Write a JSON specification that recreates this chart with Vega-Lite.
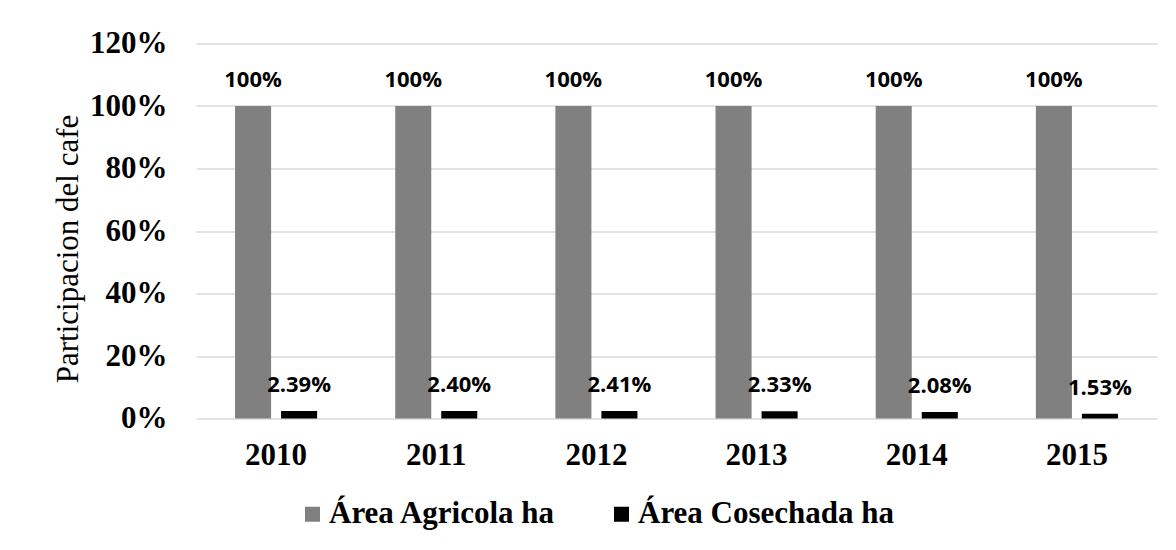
{
  "$schema": "https://vega.github.io/schema/vega-lite/v6.json",
  "width": 961,
  "height": 375,
  "autosize": "none",
  "padding": {"left": 196, "top": 43.5, "right": 19, "bottom": 131.5},
  "background": "white",
  "config": {"view": {"stroke": null}},
  "data": {
    "values": [
      {"year": "2010", "serie": "Área Agricola ha", "value": 1.0, "label": "100%"},
      {"year": "2010", "serie": "Área Cosechada ha", "value": 0.0239, "label": "2.39%"},
      {"year": "2011", "serie": "Área Agricola ha", "value": 1.0, "label": "100%"},
      {"year": "2011", "serie": "Área Cosechada ha", "value": 0.0240, "label": "2.40%"},
      {"year": "2012", "serie": "Área Agricola ha", "value": 1.0, "label": "100%"},
      {"year": "2012", "serie": "Área Cosechada ha", "value": 0.0241, "label": "2.41%"},
      {"year": "2013", "serie": "Área Agricola ha", "value": 1.0, "label": "100%"},
      {"year": "2013", "serie": "Área Cosechada ha", "value": 0.0233, "label": "2.33%"},
      {"year": "2014", "serie": "Área Agricola ha", "value": 1.0, "label": "100%"},
      {"year": "2014", "serie": "Área Cosechada ha", "value": 0.0208, "label": "2.08%"},
      {"year": "2015", "serie": "Área Agricola ha", "value": 1.0, "label": "100%"},
      {"year": "2015", "serie": "Área Cosechada ha", "value": 0.0153, "label": "1.53%"}
    ]
  },
  "encoding": {
    "x": {
      "field": "year",
      "type": "nominal",
      "scale": {"paddingInner": 0.4875, "paddingOuter": 0.24375},
      "axis": {
        "title": null,
        "labelAngle": 0,
        "domain": false,
        "ticks": false,
        "tickSize": 0,
        "labelFont": "Liberation Serif",
        "labelFontWeight": "bold",
        "labelFontSize": 31,
        "labelColor": "#000000",
        "labelBaseline": "middle",
        "labelPadding": 36.5
      }
    },
    "xOffset": {
      "field": "serie",
      "type": "nominal",
      "sort": ["Área Agricola ha", "Área Cosechada ha"],
      "scale": {"paddingInner": 0.217, "paddingOuter": 0}
    },
    "y": {
      "field": "value",
      "type": "quantitative",
      "scale": {"domain": [0, 1.2]},
      "axis": {
        "values": [0, 0.2, 0.4, 0.6, 0.8, 1.0, 1.2],
        "format": ".0%",
        "grid": true,
        "gridColor": "#d9d9d9",
        "gridWidth": 1.3,
        "domain": false,
        "ticks": false,
        "tickSize": 0,
        "labelFont": "Liberation Serif",
        "labelFontWeight": "bold",
        "labelFontSize": 31,
        "labelColor": "#000000",
        "labelPadding": 29,
        "title": "Participacion del cafe",
        "titleFont": "Liberation Serif",
        "titleFontWeight": "normal",
        "titleFontSize": 31,
        "titleColor": "#000000",
        "titleAngle": -90,
        "titleX": -119,
        "titleY": 205,
        "titleAlign": "center",
        "titleBaseline": "alphabetic"
      }
    }
  },
  "layer": [
    {
      "mark": {"type": "bar"},
      "encoding": {
        "color": {
          "field": "serie",
          "type": "nominal",
          "scale": {
            "domain": ["Área Agricola ha", "Área Cosechada ha"],
            "range": ["#808080", "#000000"]
          },
          "legend": {
            "orient": "none",
            "legendX": 101,
            "legendY": 455,
            "direction": "horizontal",
            "title": null,
            "symbolType": "square",
            "symbolSize": 225,
            "symbolStrokeWidth": 0,
            "symbolOpacity": 1,
            "labelFont": "Liberation Serif",
            "labelFontWeight": "bold",
            "labelFontSize": 31,
            "labelColor": "#000000",
            "labelOffset": 1,
            "labelLimit": 400,
            "columnPadding": 50,
            "padding": 0
          }
        }
      }
    },
    {
      "mark": {
        "type": "text",
        "dy": -26,
        "font": "Open Sans",
        "fontWeight": "bold",
        "fontSize": 22,
        "baseline": "middle",
        "color": "#000000"
      },
      "encoding": {"text": {"field": "label", "type": "nominal"}}
    }
  ]
}
